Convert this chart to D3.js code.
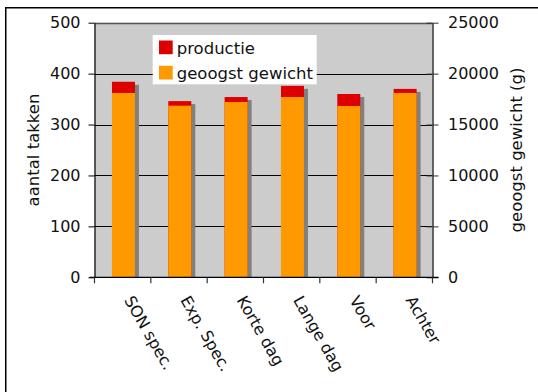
<!DOCTYPE html>
<html>
<head>
<meta charset="utf-8">
<script src="https://cdn.jsdelivr.net/npm/d3@7"></script>
<style>
  html, body { margin: 0; padding: 0; background: #fff; }
  svg { display: block; font-family: "DejaVu Sans", Verdana, sans-serif; }
</style>
</head>
<body>
<svg id="chart" width="538" height="392"></svg>
<script>
// Behandelingen (categorieën)
const categories = ["SON spec.", "Exp. Spec.", "Korte dag", "Lange dag", "Voor", "Achter"];
// Productie: aantal takken (linker as)
const productie = [384, 346, 354, 376, 360, 370];
// Geoogst gewicht in gram (rechter as)
const gewicht = [18100, 16850, 17210, 17700, 16820, 18100];
// Asindeling
const leftTicks = [0, 100, 200, 300, 400, 500];
const rightTicks = [0, 5000, 10000, 15000, 20000, 25000];
const legendLabels = ["productie", "geoogst gewicht"];

const colors = { productie: "#DD0000", gewicht: "#FF9900", shadow: "#808080", plot: "#CCCCCC" };

const svg = d3.select("#chart");
const plot = { left: 94.5, right: 432.5, top: 22.7, bottom: 277.3 };

// outer frame
svg.append("rect")
  .attr("x", 5.75).attr("y", 7.75)
  .attr("width", 620).attr("height", 500)
  .attr("fill", "none").attr("stroke", "#000").attr("stroke-width", 1.5);

const x = d3.scaleBand().domain(categories).range([plot.left, plot.right]).padding(0);
const yL = d3.scaleLinear().domain([0, 500]).range([plot.bottom, plot.top]);
const yR = d3.scaleLinear().domain([0, 25000]).range([plot.bottom, plot.top]);

// plot area
svg.append("rect")
  .attr("x", plot.left).attr("y", plot.top)
  .attr("width", plot.right - plot.left).attr("height", plot.bottom - plot.top)
  .attr("fill", colors.plot);

// gridlines
svg.append("g").selectAll("line")
  .data(leftTicks.filter(d => d > 0))
  .join("line")
  .attr("x1", plot.left).attr("x2", plot.right)
  .attr("y1", d => Math.round(yL(d)) + 0.5).attr("y2", d => Math.round(yL(d)) + 0.5)
  .attr("stroke", d => d === 500 ? "#555" : "#000").attr("stroke-width", d => d === 500 ? 1.6 : 1);

const barW = x.bandwidth() * 0.408;
const barX = d => x(d) + (x.bandwidth() - barW) / 2 + 0.8;

const rows = categories.map((c, i) => ({ c, p: productie[i], g: gewicht[i] }));

// drop shadows
svg.append("g").selectAll("rect")
  .data(rows).join("rect")
  .attr("x", d => barX(d.c) + 4).attr("y", d => yL(d.p) + 3)
  .attr("width", barW).attr("height", d => plot.bottom - yL(d.p) - 3)
  .attr("fill", colors.shadow);

// productie bars
svg.append("g").selectAll("rect")
  .data(rows).join("rect")
  .attr("x", d => barX(d.c)).attr("y", d => yL(d.p))
  .attr("width", barW).attr("height", d => plot.bottom - yL(d.p))
  .attr("fill", colors.productie);

// geoogst gewicht bars
svg.append("g").selectAll("rect")
  .data(rows).join("rect")
  .attr("x", d => barX(d.c)).attr("y", d => yR(d.g))
  .attr("width", barW).attr("height", d => plot.bottom - yR(d.g))
  .attr("fill", colors.gewicht);

// left axis
const gL = svg.append("g").attr("transform", `translate(${plot.left},0)`)
  .call(d3.axisLeft(yL).tickValues(leftTicks).tickFormat(d3.format("d"))
    .tickSize(6).tickPadding(8).tickSizeOuter(0));
gL.select(".domain").attr("stroke", "#000").attr("stroke-width", 1.2);
gL.selectAll(".tick line").attr("stroke", "#000");
gL.selectAll("text").attr("font-size", 16).attr("fill", "#111").attr("font-family", "DejaVu Sans");

// right axis (ticks cross the axis line)
const gR = svg.append("g").attr("transform", `translate(${plot.right},0)`)
  .call(d3.axisRight(yR).tickValues(rightTicks).tickFormat(d3.format("d"))
    .tickSize(6).tickPadding(9.5).tickSizeOuter(0));
gR.select(".domain").attr("stroke", "#333").attr("stroke-width", 1.5);
gR.selectAll(".tick line").attr("x1", -6).attr("stroke", "#333");
gR.selectAll("text").attr("font-size", 16).attr("fill", "#111").attr("font-family", "DejaVu Sans");

// category axis
const xTicks = d3.scalePoint().domain(d3.range(categories.length + 1)).range([plot.left, plot.right]);
const gX = svg.append("g");
gX.append("line")
  .attr("x1", plot.left - 5).attr("x2", plot.right + 6)
  .attr("y1", plot.bottom).attr("y2", plot.bottom)
  .attr("stroke", "#000").attr("stroke-width", 1.3);
gX.selectAll("line.tk")
  .data(xTicks.domain()).join("line").attr("class", "tk")
  .attr("x1", d => xTicks(d)).attr("x2", d => xTicks(d))
  .attr("y1", plot.bottom).attr("y2", plot.bottom + 6)
  .attr("stroke", "#333").attr("stroke-width", 1.2);
gX.selectAll("text")
  .data(categories).join("text")
  .attr("transform", d => `translate(${x(d) + x.bandwidth() / 2 + 1},300) rotate(60)`)
  .attr("font-size", 16).attr("fill", "#111")
  .text(d => d);

// axis titles
svg.append("text")
  .attr("transform", `translate(39,150) rotate(-90)`)
  .attr("text-anchor", "middle").attr("font-size", 16.5).attr("fill", "#111")
  .text("aantal takken");
svg.append("text")
  .attr("transform", `translate(522,150) rotate(-90)`)
  .attr("text-anchor", "middle").attr("font-size", 16.5).attr("fill", "#111")
  .text("geoogst gewicht (g)");

// legend
const leg = svg.append("g");
leg.append("rect")
  .attr("x", 152.7).attr("y", 35).attr("width", 164).attr("height", 49.3)
  .attr("fill", "#fff");
const legColors = [colors.productie, colors.gewicht];
legendLabels.forEach((lbl, i) => {
  leg.append("rect")
    .attr("x", 159).attr("y", 40.5 + i * 25.3).attr("width", 13.7).attr("height", 13.7)
    .attr("fill", legColors[i]);
  leg.append("text")
    .attr("x", 176.7).attr("y", 54.3 + i * 25)
    .attr("font-size", 16.5).attr("fill", "#111")
    .text(lbl);
});
</script>
</body>
</html>
